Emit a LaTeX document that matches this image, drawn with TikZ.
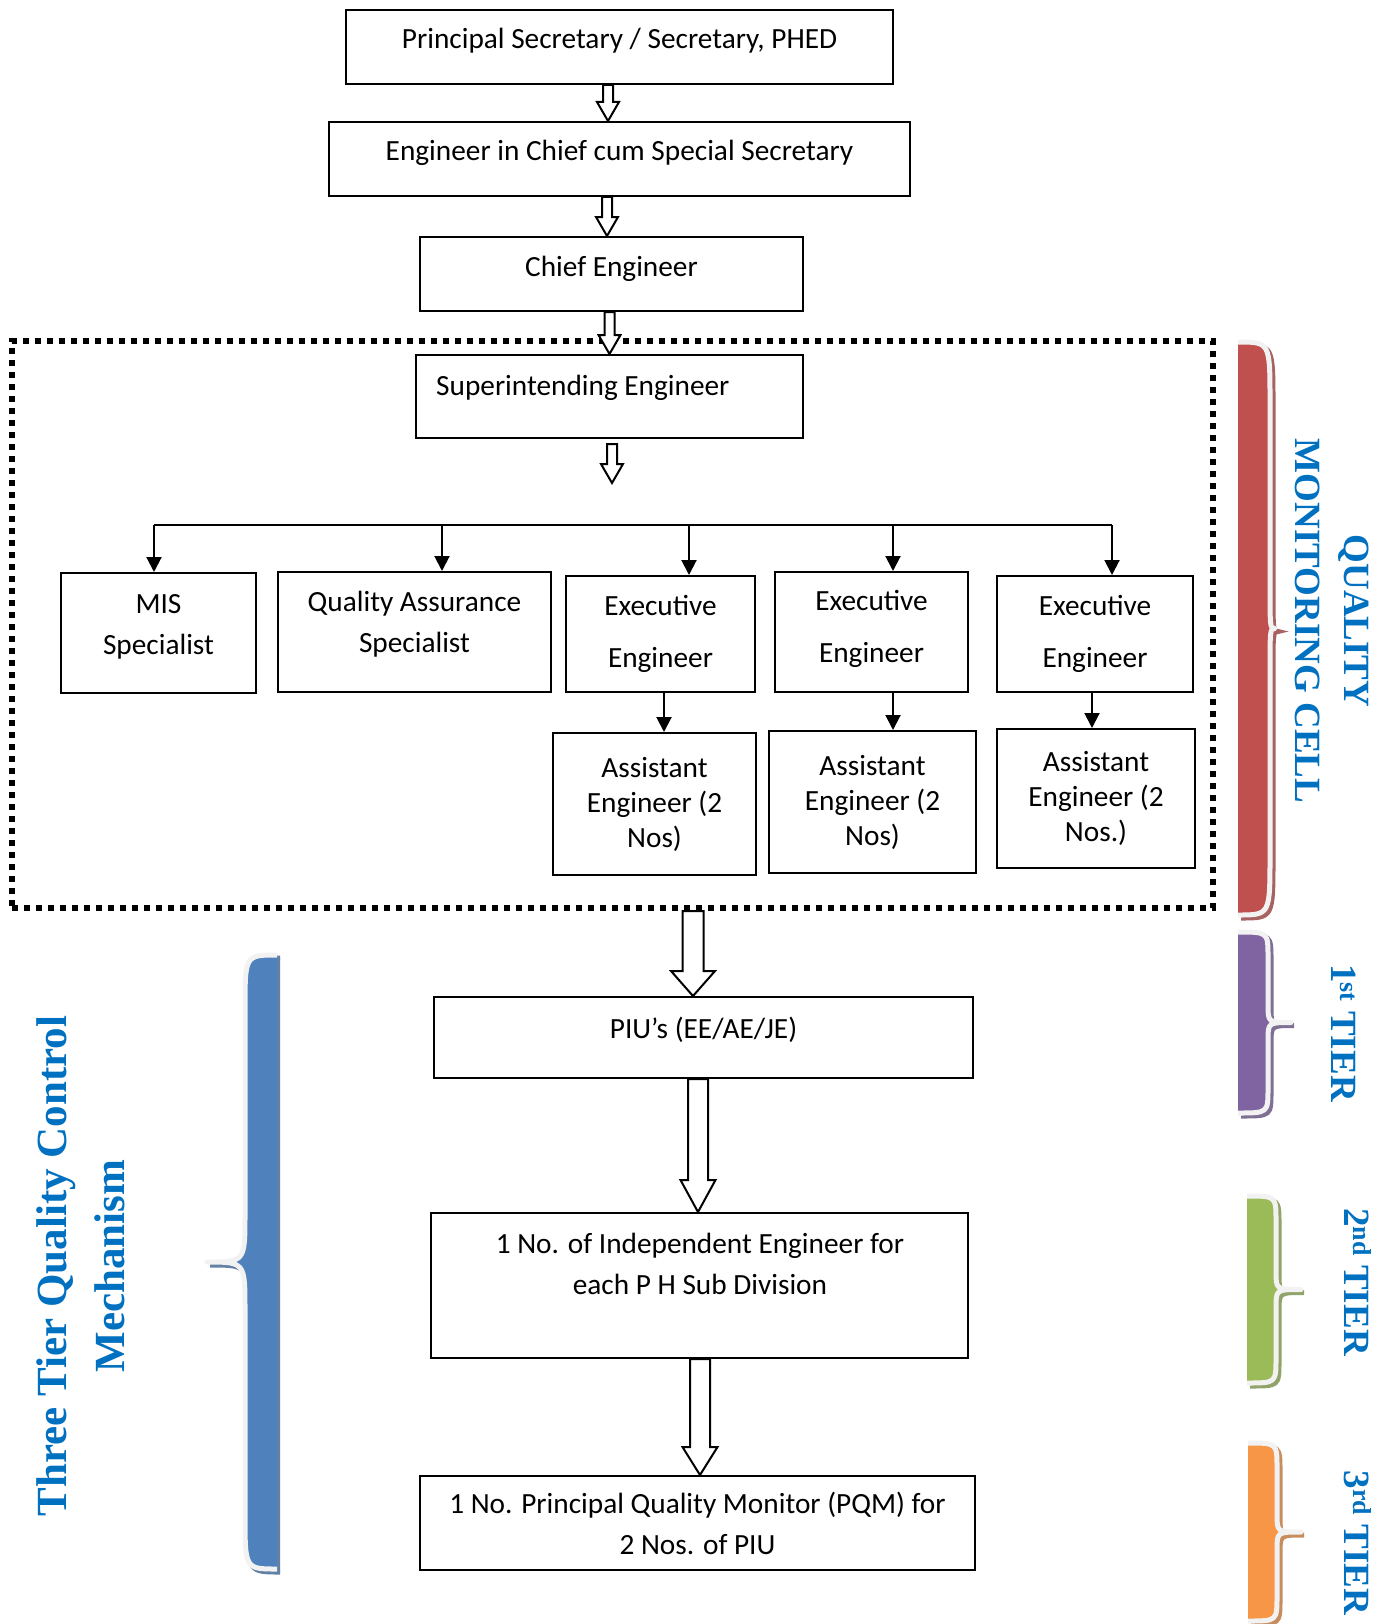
\documentclass[tikz,border=0pt]{standalone}
\usepackage{fontspec}
\setmainfont{Carlito}
\newfontfamily\sidefont{Liberation Serif}
\usetikzlibrary{arrows.meta,positioning,calc}

\definecolor{qred}{HTML}{C0504D}
\definecolor{qpurple}{HTML}{8064A2}
\definecolor{qgreen}{HTML}{9BBB59}
\definecolor{qorange}{HTML}{F79646}
\definecolor{qblue}{HTML}{4F81BD}
\definecolor{sideblue}{HTML}{0070C0}
\definecolor{rimgray}{HTML}{F2F2F2}

% filled curly brace: colour, flat x, body x, tip x, top y, bottom y, corner, notch
\newcommand{\tierbrace}[8]{%
  \def\bracepath{(#2,#5) .. controls (#3,#5) and (#3,#5) .. (#3,#5+#7)
    -- (#3,{(#5+#6)/2-#8}) .. controls (#3,{(#5+#6)/2}) and (#3,{(#5+#6)/2}) .. (#4,{(#5+#6)/2})
    .. controls (#3,{(#5+#6)/2}) and (#3,{(#5+#6)/2}) .. (#3,{(#5+#6)/2+#8})
    -- (#3,#6-#7) .. controls (#3,#6) and (#3,#6) .. (#2,#6)}%
  \begin{scope}[shift={(3,3)}]
    \fill[#1!60!gray] \bracepath -- cycle;
    \draw[#1!60!gray, line width=5pt] \bracepath;
  \end{scope}
  \fill[#1] \bracepath -- cycle;
  \draw[bracerim] \bracepath;
}

\begin{document}
\begin{tikzpicture}[
    x=1pt, y=-1pt,
    box/.style={draw, line width=2pt, fill=white, align=center, inner sep=0pt, font=\fontsize{29.3}{41}\selectfont},
    boxtext/.style={align=center, inner sep=0pt, font=\fontsize{29.3}{41}\selectfont},
    lift/.style={execute at end node={\rule[-#1]{0pt}{0pt}}},
    eebox/.style={font=\fontsize{29.3}{52}\selectfont},
    aebox/.style={font=\fontsize{29.3}{35}\selectfont},
    cellframe/.style={draw, line width=6pt, dash pattern=on 6pt off 6pt},
    hollow/.style n args={3}{draw, fill=white, line width=2pt, to path={
        let \p1=(\tikztostart), \p2=(\tikztotarget) in
        (\x2-#1,\y1) -- (\x2-#1,\y2+#3) -- (\x2-#2,\y2+#3) -- (\x2,\y2)
        -- (\x2+#2,\y2+#3) -- (\x2+#1,\y2+#3) -- (\x2+#1,\y1) -- cycle}},
    bus/.style={line width=2pt},
    arr/.style={line width=2pt, -{Triangle[length=15pt,width=15pt]}},
    bracerim/.style={draw=rimgray, line width=5pt, line join=round},
    sidelabel/.style={align=center, inner sep=0pt, text=sideblue, font=\sidefont\bfseries\fontsize{37}{49}\selectfont}
]
\useasboundingbox (0,0) rectangle (1390,1624);

% Chain of command
\node[box, lift=17pt, minimum width=547pt, minimum height=74pt] (ps) at (619.5,47) {Principal Secretary / Secretary, PHED};
\node[box, lift=17pt, minimum width=581pt, minimum height=74pt] (eic) at (619.5,159) {Engineer in Chief cum Special Secretary};
\node[box, lift=15pt, minimum width=383pt, minimum height=74pt] (ce) at (611.5,274) {Chief Engineer};

% Quality monitoring cell
\node[cellframe, minimum width=1201pt, minimum height=567pt] (cell) at (612.5,624.5) {};
\node[box, minimum width=387pt, minimum height=83pt] (se) at (609.5,396.5) {};
\node[boxtext, anchor=west] (se-text) at (436,388) {Superintending Engineer};
\coordinate (se-out) at (612,483);

\node[box, lift=17pt, minimum width=195pt, minimum height=120pt] (mis) at (158.5,633) {MIS\\Specialist};
\node[box, lift=21pt, minimum width=273pt, minimum height=120pt] (qa) at (414.5,632) {Quality Assurance\\Specialist};
\node[box, eebox, minimum width=189pt, minimum height=116pt] (ee1) at (660.5,634) {Executive\\Engineer};
\node[box, eebox, lift=11pt, minimum width=193pt, minimum height=120pt] (ee2) at (871.5,632) {Executive\\Engineer};
\node[box, eebox, minimum width=196pt, minimum height=116pt] (ee3) at (1095,634) {Executive\\Engineer};

\node[box, aebox, minimum width=203pt, minimum height=142pt] (ae1) at (654.5,804) {Assistant\\Engineer (2\\Nos)};
\node[box, aebox, minimum width=207pt, minimum height=142pt] (ae2) at (872.5,802) {Assistant\\Engineer (2\\Nos)};
\node[box, aebox, minimum width=198pt, minimum height=139pt] (ae3) at (1096,798.5) {Assistant\\Engineer (2\\Nos.)};

% Three tiers
\node[box, lift=20pt, minimum width=539pt, minimum height=81pt] (piu) at (703.5,1037.5) {PIU’s (EE/AE/JE)};
\node[box, minimum width=537pt, minimum height=145pt] (ie) at (699.5,1285.5) {};
\node[boxtext] (ie-text) at (700,1264) {1 No. of Independent Engineer for\\each P H Sub Division};
\node[box, minimum width=555pt, minimum height=94pt] (pqm) at (697.5,1523) {1 No. Principal Quality Monitor (PQM) for\\2 Nos. of PIU};

% Block arrows
\draw[hollow={5pt}{11pt}{19pt}] (ps.south) to ([xshift=-11.5pt]eic.north);
\draw[hollow={5pt}{11pt}{19pt}] (eic.south) to ([xshift=-4.5pt]ce.north);
\draw[hollow={5pt}{11pt}{19pt}] (ce.south) to (se.north);
\draw[hollow={5pt}{11pt}{19pt}] ([yshift=-5pt]se.south) to (se-out);
\draw[hollow={10.5pt}{22pt}{25pt}] (cell.south) to ([xshift=-10.5pt]piu.north);
\draw[hollow={10pt}{17.5pt}{32pt}] (piu.south) to ([xshift=-1.5pt]ie.north);
\draw[hollow={10pt}{17.5pt}{28pt}] (ie.south) to ([xshift=2.5pt]pqm.north);

% Distribution bus
\coordinate (bus-mis) at (154,525);
\coordinate (bus-qa) at (442,525);
\coordinate (bus-ee1) at (689,525);
\coordinate (bus-ee2) at (893,525);
\coordinate (bus-ee3) at (1112,525);
\draw[bus] (bus-mis) -- (bus-ee3);
\draw[arr] (bus-mis) -- (bus-mis |- mis.north);
\draw[arr] (bus-qa) -- (bus-qa |- qa.north);
\draw[arr] (bus-ee1) -- (bus-ee1 |- ee1.north);
\draw[arr] (bus-ee2) -- (bus-ee2 |- ee2.north);
\draw[arr] (bus-ee3) -- (bus-ee3 |- ee3.north);

\draw[arr] ([xshift=3.5pt]ee1.south) -- ([xshift=9.5pt]ae1.north);
\draw[arr] ([xshift=21.5pt]ee2.south) -- ([xshift=20.5pt]ae2.north);
\draw[arr] ([xshift=-3pt]ee3.south) -- ([xshift=-4pt]ae3.north);

% Braces
\tierbrace{qred}{1238}{1270}{1275}{342}{915}{60}{45}
\tierbrace{qpurple}{1238}{1268}{1291}{932}{1113}{25}{18}
\tierbrace{qgreen}{1247}{1276}{1301}{1196}{1383}{25}{18}
\tierbrace{qorange}{1248}{1277}{1301}{1443}{1621}{25}{18}
\tierbrace{qblue}{277}{245}{207}{955}{1569}{55}{48}

% Side labels
\node[sidelabel, rotate=-90] (qmc-label) at (1332,621) {QUALITY\\MONITORING CELL};
\node[sidelabel, rotate=-90] (tier1) at (1344,1033) {1\textsuperscript{st} TIER};
\node[sidelabel, rotate=-90] (tier2) at (1358,1282) {2\textsuperscript{nd} TIER};
\node[sidelabel, rotate=-90] (tier3) at (1358,1543) {3\textsuperscript{rd} TIER};
\node[sidelabel, rotate=90, font=\sidefont\bfseries\fontsize{43}{58}\selectfont] (three-tier) at (81,1266) {Three Tier Quality Control\\Mechanism};

\end{tikzpicture}
\end{document}
